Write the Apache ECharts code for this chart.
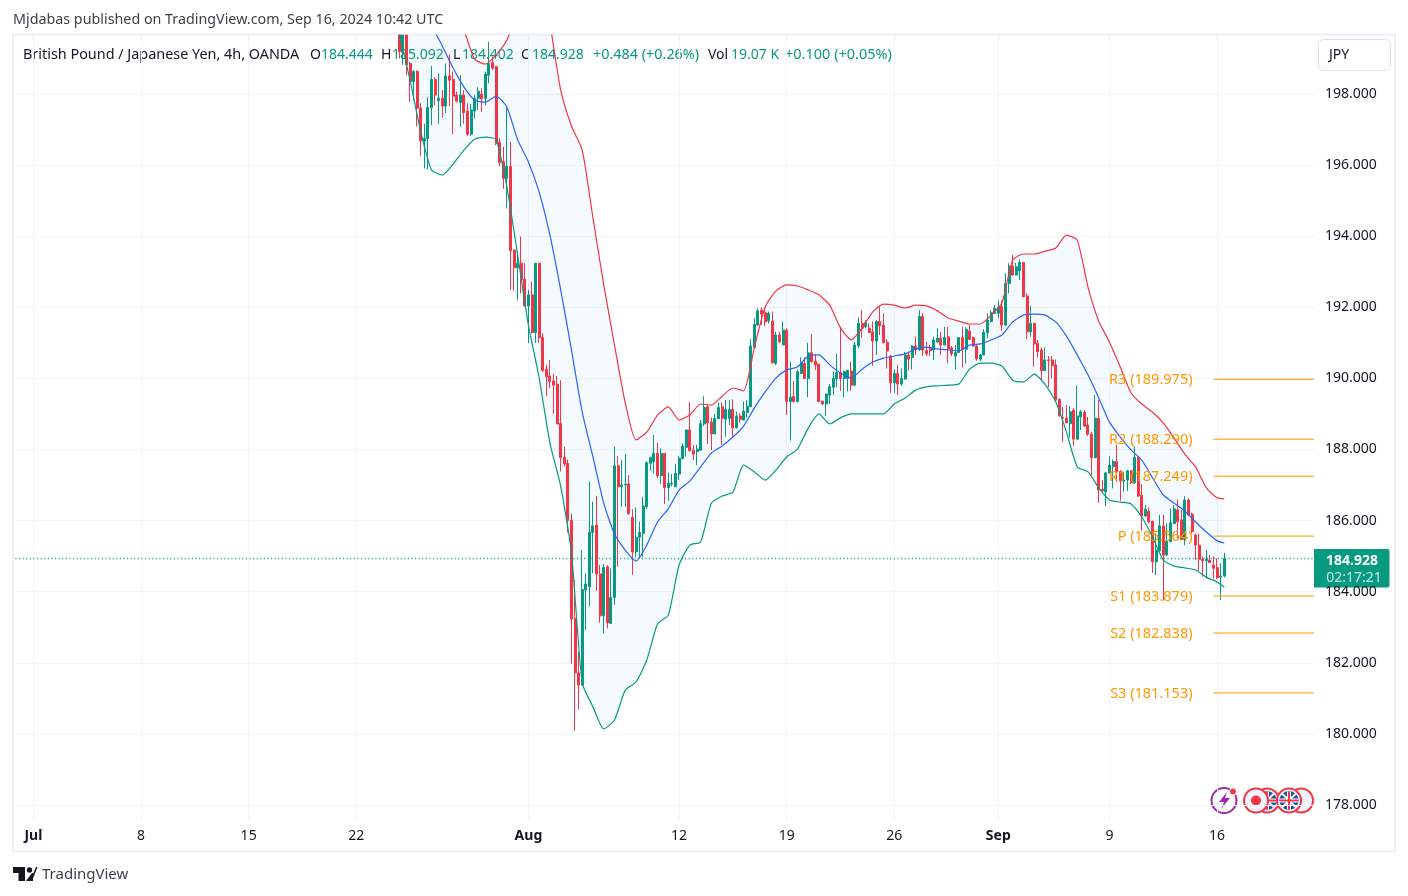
<!DOCTYPE html>
<html>
<head>
    <meta charset="UTF-8">
    <title>GBP/JPY 4h</title>
    <script src="https://cdn.jsdelivr.net/npm/echarts@6/dist/echarts.min.js"></script>
    <style>
        html, body { margin: 0; padding: 0; background: #fff; }
        #chart { width: 1408px; height: 896px; }
    </style>
</head>
<body>
    <div id="chart"></div>
    <script>
        // bar number of each date label, counted in 4h bars from Jul 1
        var dateBars = [0, 30, 60, 90, 138, 180, 210, 240, 269, 300, 330];
        var dateLabels = ['Jul', '8', '15', '22', 'Aug', '12', '19', '26', 'Sep', '9', '16'];
        var monthLabels = ['Jul', 'Aug', 'Sep'];
        var priceTicks = [178, 180, 182, 184, 186, 188, 190, 192, 194, 196, 198];
        var lastPrice = 184.928;

        var pivotNames = ['R3', 'R2', 'R1', 'P', 'S1', 'S2', 'S3'];
        var pivotValues = [189.975, 188.290, 187.249, 185.564, 183.879, 182.838, 181.153];

        // open, close, low, high - first row is bar 102, everything earlier is above the visible range
        var firstCandleBar = 102;
        var candles = [
            [199.66,199.19,199.0,199.66],[199.24,199.66,198.82,199.66],[199.66,198.82,198.53,199.66],[198.86,198.35,197.78,198.9],
            [198.35,198.63,197.83,198.67],[198.63,197.6,197.08,198.67],[197.6,196.68,196.26,197.74],[196.68,196.75,195.91,197.16],
            [196.75,197.62,195.88,197.92],[197.62,198.41,197.13,198.79],[198.41,197.97,197.69,198.47],[197.81,197.88,197.16,198.58],
            [197.88,197.66,197.34,198.11],[197.66,198.51,197.46,198.86],[198.51,198.39,197.66,199.12],[198.41,197.94,196.87,198.63],
            [197.97,197.8,197.76,198.07],[197.76,197.97,197.08,198.53],[197.97,197.48,197.17,198.11],[197.52,196.87,196.82,197.74],
            [196.87,197.55,196.82,197.72],[197.52,197.88,197.31,197.97],[197.88,198.08,197.55,198.19],[198.0,197.86,197.5,198.16],
            [197.88,198.56,197.69,198.63],[198.53,198.86,198.3,199.47],[198.88,198.72,198.69,199.05],[198.77,196.61,196.56,198.79],
            [196.64,196.07,195.97,196.75],[196.1,195.63,195.33,196.52],[195.63,195.97,194.78,197.62],[195.96,193.59,192.49,196.66],
            [193.61,193.11,192.47,193.63],[193.11,193.24,192.19,193.56],[193.24,192.77,192.39,193.99],[192.79,192.04,192.02,193.24],
            [192.04,192.35,190.99,192.49],[192.35,191.29,191.27,192.72],[191.29,193.24,191.0,193.24],[193.24,191.15,191.0,193.24],
            [191.15,190.22,190.19,191.27],[190.26,190.05,189.5,190.38],[190.07,189.91,189.72,190.52],[189.93,189.81,189.0,190.12],
            [189.84,188.72,188.72,190.07],[188.74,187.77,187.38,189.95],[187.78,187.59,187.52,188.08],[187.61,186.0,185.66,187.72],
            [186.01,183.23,181.98,186.2],[183.25,181.72,180.09,184.33],[181.72,181.37,180.69,182.31],[181.37,184.06,181.37,185.17],
            [184.05,184.22,182.92,184.52],[184.14,185.67,183.58,187.1],[185.66,185.85,184.52,186.53],[185.87,184.5,184.03,186.69],
            [184.5,183.32,183.13,184.75],[183.32,184.68,182.83,184.78],[184.7,183.13,182.97,184.75],[183.11,183.84,183.11,184.66],
            [183.84,187.54,183.63,188.08],[187.54,186.95,184.7,187.82],[186.95,187.0,186.39,187.7],[187.01,187.03,186.39,187.87],
            [187.03,186.2,186.16,187.28],[186.09,185.12,184.47,186.32],[185.12,185.53,184.98,186.37],[185.53,185.67,184.94,185.97],
            [185.64,186.41,184.98,186.67],[186.39,187.63,186.32,187.66],[187.61,187.77,187.4,187.8],[187.66,187.89,187.33,188.41],
            [187.89,187.26,187.19,188.19],[187.26,187.89,187.03,188.03],[187.89,186.93,186.47,187.89],[186.93,187.05,186.56,187.35],
            [187.03,187.05,186.97,187.31],[186.95,187.33,186.95,187.59],[187.31,187.75,187.14,187.82],[187.75,188.1,187.72,188.17],
            [188.06,188.55,187.8,188.55],[188.55,187.97,187.94,189.34],[187.98,187.87,187.7,188.13],[187.94,188.01,187.56,188.13],
            [187.98,188.73,187.98,188.83],[188.72,189.18,188.66,189.5],[189.2,188.75,188.15,189.28],[188.77,188.44,187.98,188.9],
            [188.44,188.87,188.44,189.0],[188.87,189.18,188.85,189.32],[189.2,188.88,188.13,189.33],[188.85,189.13,188.36,189.39],
            [188.87,189.13,188.69,189.39],[189.13,188.61,188.36,189.41],[188.61,188.94,188.59,189.06],[188.94,188.85,188.75,189.02],
            [188.83,189.08,188.81,189.35],[189.04,189.22,188.9,189.39],[189.2,190.91,189.2,191.1],[190.87,191.52,190.85,191.69],
            [191.5,191.9,191.48,191.97],[191.92,191.81,191.5,192.0],[191.85,191.59,191.47,191.94],[191.62,191.83,191.55,191.88],
            [191.61,190.44,190.42,191.88],[190.42,191.22,190.38,191.31],[191.22,191.03,190.99,191.31],[190.94,191.36,190.94,191.6],
            [191.36,189.35,188.97,191.41],[189.35,189.47,188.25,190.47],[189.49,189.35,189.32,189.93],[189.35,190.19,189.32,190.25],
            [190.14,190.44,190.12,190.59],[190.42,190.0,189.99,190.59],[190.0,190.72,189.47,191.0],[190.72,190.47,190.44,191.25],
            [190.49,190.38,190.24,190.69],[190.4,189.35,189.34,190.42],[189.36,189.28,189.25,189.37],[189.28,189.56,188.95,189.58],
            [189.53,189.77,189.28,189.84],[189.75,190.0,189.53,190.19],[189.99,190.16,189.75,190.69],[190.16,190.0,189.65,191.45],
            [190.0,190.19,189.47,190.22],[190.0,190.22,189.63,190.25],[190.21,189.81,189.65,190.47],[189.81,190.94,189.79,191.03],
            [190.92,191.55,190.85,191.72],[191.55,191.41,191.13,191.92],[191.45,191.57,191.41,191.64],[191.41,191.29,191.27,191.55],
            [191.31,191.05,190.35,191.6],[191.05,191.6,190.66,191.64],[191.6,191.48,191.22,192.02],[191.5,191.0,190.99,191.83],
            [191.02,190.77,190.28,191.1],[190.63,189.88,189.6,190.66],[189.88,190.14,189.6,190.25],[190.14,189.84,189.53,190.38],
            [189.84,190.0,189.79,190.28],[189.98,190.66,189.97,190.75],[190.66,190.54,190.22,190.75],[190.59,190.91,190.25,190.94],
            [190.91,190.8,190.66,191.17],[190.8,191.74,190.78,191.92],[191.74,190.8,190.63,191.83],[190.78,190.69,190.63,191.03],
            [190.85,190.78,190.63,190.94],[190.8,191.08,190.52,191.17],[191.03,191.13,190.99,191.41],[191.13,190.94,190.66,191.31],
            [190.94,191.15,190.94,191.45],[191.17,190.83,190.42,191.45],[190.86,190.69,190.63,190.91],[190.63,190.73,190.25,190.94],
            [190.73,191.15,190.72,191.16],[191.15,190.82,190.31,191.45],[190.82,191.38,190.42,191.44],[191.33,191.1,191.08,191.5],
            [191.15,190.91,190.89,191.17],[190.91,190.55,190.5,190.94],[190.54,190.66,190.49,190.69],[190.66,191.3,190.65,191.38],
            [191.29,191.64,191.13,191.83],[191.6,191.85,191.57,191.91],[191.83,191.97,191.81,192.07],[191.83,192.0,191.69,192.19],
            [192.02,191.5,191.34,192.19],[191.5,192.67,191.48,192.96],[192.67,193.16,192.39,193.24],[193.16,192.91,192.89,193.47],
            [192.91,193.14,192.89,193.25],[193.03,193.26,192.77,193.35],[193.26,192.3,192.28,193.28],[192.32,191.31,191.1,192.39],
            [191.31,191.55,191.17,192.04],[191.55,190.97,190.33,191.55],[190.99,190.75,190.59,191.08],[190.8,190.22,189.95,190.87],
            [190.22,190.52,190.2,190.87],[190.52,190.5,189.75,190.63],[190.52,190.36,190.0,190.63],[190.38,189.39,189.37,190.53],
            [189.41,188.95,188.92,189.44],[188.9,188.88,188.22,189.2],[188.88,188.75,188.74,189.25],[188.73,189.06,188.34,189.22],
            [189.11,188.29,188.1,189.16],[188.29,188.94,188.28,189.79],[188.92,189.06,188.55,189.11],[189.05,188.66,188.64,189.11],
            [188.69,188.43,188.38,188.92],[188.43,187.77,187.28,188.5],[187.77,188.88,187.75,189.53],[188.88,186.86,186.5,189.39],
            [186.88,186.84,186.81,187.14],[186.81,187.34,186.41,187.37],[187.34,187.56,187.33,187.8],[187.52,187.66,186.91,187.72],
            [187.66,187.38,187.09,188.13],[187.38,187.12,186.56,187.42],[187.11,187.14,186.81,187.37],[187.14,187.4,186.84,187.42],
            [187.4,187.07,187.03,187.42],[187.07,187.78,187.03,188.08],[187.78,186.69,186.67,187.8],[186.71,186.13,185.72,187.03],
            [186.13,186.32,186.11,186.44],[186.26,185.97,185.92,186.37],[185.98,184.84,184.53,186.0],[184.84,185.17,184.47,185.64],
            [185.15,185.85,185.13,186.16],[185.85,185.03,183.75,186.16],[185.03,185.41,185.0,185.92],[185.41,185.94,185.39,186.34],
            [185.92,186.33,185.9,186.44],[186.3,185.97,185.5,186.6],[186.02,185.47,185.45,186.3],[185.47,186.58,185.31,186.69],
            [186.58,186.16,186.13,186.63],[186.18,185.69,185.64,186.22],[185.59,185.31,184.89,185.64],[185.31,184.91,184.59,185.64],
            [184.91,184.87,184.42,184.99],[184.87,184.91,184.37,185.17],[184.89,184.82,184.8,185.03],[184.75,184.66,184.37,185.0],
            [184.68,184.39,184.35,184.94],[184.41,184.44,183.77,184.8],[184.444,184.928,184.402,185.092]
        ];

        // Bollinger bands read every third bar
        var bandBars = [102,105,108,111,114,117,120,123,126,129,132,135,138,141,144,147,150,153,156,159,162,165,168,171,174,177,180,183,186,189,192,195,198,201,204,207,210,213,216,219,222,225,228,231,234,237,240,243,246,249,252,255,258,261,264,267,270,273,276,279,282,285,288,291,294,297,300,303,306,309,312,315,318,321,324,327,330,332];
        var upperBand = [201.0,201.2,201.2,201.1,200.9,200.4,199.8,198.98,198.84,199.1,199.52,200.3,201.5,201.8,200.0,198.11,197.1,196.42,194.51,192.63,190.94,189.31,188.27,188.49,188.97,189.2,188.83,188.97,189.28,189.25,189.5,189.73,189.65,190.88,192.01,192.46,192.63,192.6,192.49,192.35,192.06,191.42,191.08,191.42,191.87,192.09,192.06,191.98,192.06,192.04,191.9,191.7,191.61,191.53,191.53,191.78,192.12,193.33,193.5,193.5,193.58,193.67,194.03,193.89,192.57,191.61,191.02,190.32,189.59,189.28,189.05,188.75,188.32,187.87,187.51,186.92,186.64,186.61];
        var middleBand = [200.8,200.8,200.8,199.94,199.35,198.73,198.2,197.83,197.77,197.94,197.63,196.71,196.09,195.24,194.03,192.49,190.8,189.05,187.79,186.49,185.62,185.17,184.86,185.31,185.96,186.33,186.86,187.11,187.51,187.9,188.1,188.35,188.66,189.17,189.62,190.01,190.24,190.32,190.63,190.66,190.38,190.15,190.01,190.26,190.46,190.57,190.63,190.69,190.83,190.88,190.83,190.8,190.77,190.94,190.97,191.08,191.22,191.59,191.78,191.81,191.78,191.59,191.19,190.66,190.1,189.45,188.77,188.35,187.99,187.7,187.2,186.72,186.49,186.27,185.96,185.68,185.43,185.37];
        var lowerBand = [199.72,198.39,196.93,195.86,195.72,196.03,196.42,196.73,196.79,196.71,195.38,193.47,191.5,190.01,188.18,186.97,185.09,181.43,180.76,180.14,180.39,181.23,181.46,182.08,183.09,183.34,184.75,185.31,185.4,186.49,186.69,186.8,187.56,187.37,187.14,187.42,187.79,188.01,188.6,189.0,188.72,188.89,189.0,189.0,189.0,189.0,189.28,189.45,189.67,189.76,189.79,189.81,189.84,190.26,190.43,190.43,190.35,189.95,189.9,190.12,189.84,189.34,188.49,187.51,187.37,186.92,186.58,186.52,186.47,186.1,185.54,184.89,184.72,184.67,184.61,184.41,184.27,184.13];

        var UP = '#089981', DOWN = '#f23645', ORANGE = '#ff9800', TEXT = '#131722', GRID = '#f0f3fa';
        var FONT = '"Noto Sans", sans-serif';

        // five empty bars sit left of Jul 1, the rest of the axis is the empty space on the right
        var leadBars = 5, totalSlots = 363;
        var categories = [];
        for (var i = 0; i < totalSlots; i++) categories.push('');
        dateBars.forEach(function (b, n) { categories[b + leadBars] = dateLabels[n]; });

        function bandData(values) {
            return bandBars.map(function (b, n) { return [b + leadBars, values[n]]; });
        }
        function hasLabel(index, value) { return value !== ''; }

        var candleRows = candles.map(function (c, n) {
            return [firstCandleBar + n + leadBars, c[0], c[1], c[2], c[3]];
        });

        var pivotSeries = pivotNames.map(function (name, n) {
            return {
                type: 'line', symbol: 'circle', symbolSize: 0, showSymbol: true, silent: true,
                lineStyle: { color: ORANGE, width: 1 },
                data: [
                    {
                        value: [329 + leadBars, pivotValues[n]],
                        label: {
                            show: true, position: 'left', distance: 21, offset: [0, 1], color: ORANGE,
                            fontFamily: FONT, fontSize: 14.5,
                            formatter: name + ' (' + pivotValues[n].toFixed(3) + ')'
                        }
                    },
                    [totalSlots - 1, pivotValues[n]]
                ]
            };
        });

        function lineBand(values, color) {
            return {
                type: 'line', showSymbol: false, silent: true, data: bandData(values), smooth: 0.2,
                lineStyle: { color: color, width: 1.2 }
            };
        }

        function legendText(x, text, color, size) {
            return { type: 'text', x: x, y: 55, style: { text: text, fill: color, font: (size || 14) + 'px ' + FONT, textVerticalAlign: 'middle' } };
        }
        function circle(cx, cy, r, fill, stroke, lw) {
            return { type: 'circle', shape: { cx: cx, cy: cy, r: r }, style: { fill: fill, stroke: stroke, lineWidth: lw || 0 } };
        }
        function seg(x1, y1, x2, y2, color, w) {
            return { type: 'line', shape: { x1: x1, y1: y1, x2: x2, y2: y2 }, style: { stroke: color, lineWidth: w } };
        }
        function flag(cx, cy) {
            return [
                circle(cx, cy, 12, '#f0f3fa', DOWN, 2),
                circle(cx, cy, 9.5, '#1d4fa8', null, 0),
                seg(cx - 7, cy - 7, cx + 7, cy + 7, '#fff', 2),
                seg(cx - 7, cy + 7, cx + 7, cy - 7, '#fff', 2),
                seg(cx - 9, cy, cx + 9, cy, '#fff', 4),
                seg(cx, cy - 9, cx, cy + 9, '#fff', 4),
                seg(cx - 9, cy, cx + 9, cy, DOWN, 2),
                seg(cx, cy - 9, cx, cy + 9, DOWN, 2)
            ];
        }

        var elements = [
            { type: 'rect', shape: { x: 13, y: 34.5, width: 1382, height: 817 }, style: { fill: 'none', stroke: '#eef0f6', lineWidth: 2 } },
            { type: 'text', x: 13, y: 20, style: { text: 'Mjdabas published on TradingView.com, Sep 16, 2024 10:42 UTC', fill: '#3d3f46', font: '14.3px ' + FONT, textVerticalAlign: 'middle' } },
            legendText(23, 'British Pound / Japanese Yen, 4h, OANDA', TEXT, 14.4),
            legendText(310, 'O', TEXT), legendText(321, '184.444', UP),
            legendText(381, 'H', TEXT), legendText(392, '185.092', UP),
            legendText(453, 'L', TEXT), legendText(462, '184.402', UP),
            legendText(521, 'C', TEXT), legendText(532, '184.928', UP),
            legendText(593, '+0.484 (+0.26%)', UP, 14.4),
            legendText(708, 'Vol', TEXT), legendText(731, '19.07 K', UP),
            legendText(785, '+0.100 (+0.05%)', UP, 14.5),
            { type: 'rect', shape: { x: 1318.5, y: 39.5, width: 72, height: 31, r: 5 }, style: { fill: '#fff', stroke: '#e0e3eb', lineWidth: 1 } },
            { type: 'text', x: 1329, y: 55, style: { text: 'JPY', fill: TEXT, font: '14px ' + FONT, textVerticalAlign: 'middle' } },
            { type: 'rect', shape: { x: 1314, y: 549, width: 75.5, height: 38.5, r: [0, 2, 2, 0] }, style: { fill: UP } },
            { type: 'text', x: 1352, y: 561, style: { text: lastPrice.toFixed(3), fill: '#fff', font: 'bold 14px ' + FONT, textAlign: 'center', textVerticalAlign: 'middle' } },
            { type: 'text', x: 1354, y: 578, style: { text: '02:17:21', fill: 'rgba(255,255,255,0.78)', font: '14px ' + FONT, textAlign: 'center', textVerticalAlign: 'middle' } },
            // bottom right badges
            circle(1224, 800.5, 12.5, '#fff', '#9c27b0', 2),
            { type: 'polygon', shape: { points: [[1227, 792], [1219, 802], [1224, 802], [1221, 809], [1230, 798], [1225, 798]] }, style: { fill: '#9c27b0' } },
            circle(1233, 791.5, 3.5, DOWN, '#fff', 1)
        ];
        elements = elements.concat(flag(1267, 800.5));
        elements.push(circle(1256, 800.5, 12, '#f0f3fa', DOWN, 2));
        elements.push(circle(1256, 800.5, 5, DOWN, null, 0));
        elements.push(circle(1301, 800.5, 12, '#f0f3fa', DOWN, 2));
        elements = elements.concat(flag(1289, 800.5));
        // footer logo
        elements.push({ type: 'polygon', shape: { points: [[13, 867], [25, 867], [25, 881], [18.5, 881], [18.5, 873], [13, 873]] }, style: { fill: TEXT } });
        elements.push(circle(29.5, 870, 2.7, TEXT, null, 0));
        elements.push({ type: 'polygon', shape: { points: [[30, 881], [36, 867], [37.5, 867], [32, 881]] }, style: { fill: TEXT } });
        elements.push({ type: 'polygon', shape: { points: [[26, 881], [32, 873], [33, 873], [33, 881]] }, style: { fill: TEXT } });
        elements.push({ type: 'text', x: 42, y: 875, style: { text: 'TradingView', fill: '#3d3f46', font: '15px ' + FONT, textVerticalAlign: 'middle' } });

        var chart = echarts.init(document.getElementById('chart'), null, { renderer: 'canvas' });
        chart.setOption({
            animation: false,
            backgroundColor: '#fff',
            textStyle: { fontFamily: FONT },
            grid: { left: 15.47, top: 35, width: 1298.5, height: 784, containLabel: false },
            xAxis: {
                type: 'category', data: categories, boundaryGap: false,
                axisLine: { show: false }, axisTick: { show: false },
                axisLabel: {
                    interval: hasLabel, color: TEXT, fontSize: 14, margin: 10, fontFamily: FONT,
                    formatter: function (v) { return monthLabels.indexOf(v) >= 0 ? '{m|' + v + '}' : v; },
                    rich: { m: { fontWeight: 'bold', fontSize: 14, color: TEXT, fontFamily: FONT } }
                },
                splitLine: { show: true, interval: hasLabel, lineStyle: { color: GRID, width: 1 } }
            },
            yAxis: {
                type: 'value', position: 'right', scale: true, min: 177.606, max: 199.66,
                axisLine: { show: false },
                axisTick: { show: false, customValues: priceTicks },
                axisLabel: {
                    customValues: priceTicks, color: '#131722', fontSize: 14, margin: 11, fontFamily: FONT,
                    padding: [4, 0, 0, 0],
                    formatter: function (v) { return v.toFixed(3); }
                },
                splitLine: { show: true, lineStyle: { color: GRID, width: 1 } }
            },
            series: [
                {
                    type: 'custom', silent: true, clip: true, data: [0],
                    renderItem: function (params, api) {
                        var pts = [];
                        bandBars.forEach(function (b, n) { pts.push(api.coord([b + leadBars, upperBand[n]])); });
                        for (var n = bandBars.length - 1; n >= 0; n--) pts.push(api.coord([bandBars[n] + leadBars, lowerBand[n]]));
                        return { type: 'polygon', shape: { points: pts }, style: { fill: 'rgba(33,150,243,0.05)' } };
                    }
                },
                lineBand(upperBand, DOWN),
                lineBand(middleBand, '#2962ff'),
                lineBand(lowerBand, UP),
                {
                    type: 'candlestick', barWidth: 2.5, silent: true, data: candleRows,
                    encode: { x: 0, y: [1, 2, 3, 4] },
                    itemStyle: { color: UP, color0: DOWN, borderColor: UP, borderColor0: DOWN, borderWidth: 1 },
                    markLine: {
                        silent: true, symbol: 'none', animation: false, label: { show: false },
                        lineStyle: { color: UP, type: [1, 2.6], width: 1.4 },
                        data: [{ yAxis: lastPrice }]
                    }
                }
            ].concat(pivotSeries),
            graphic: { elements: elements }
        });
    </script>
</body>
</html>
